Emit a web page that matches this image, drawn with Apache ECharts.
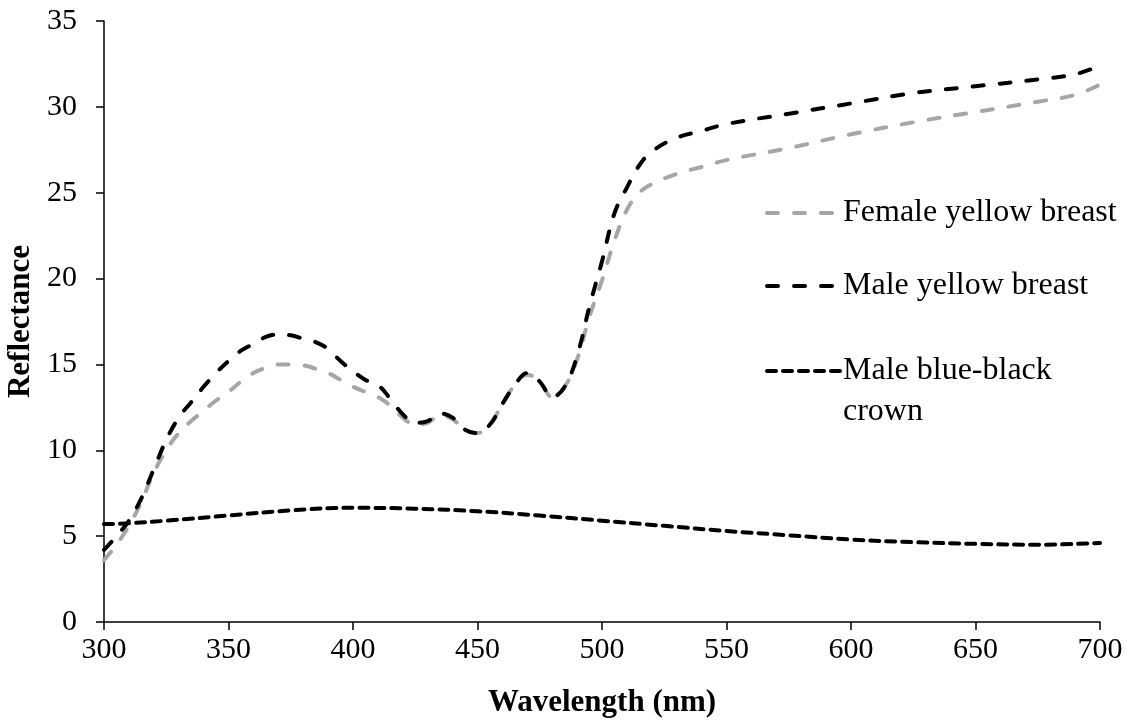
<!DOCTYPE html>
<html>
<head>
<meta charset="utf-8">
<script src="https://cdn.jsdelivr.net/npm/echarts@6/dist/echarts.min.js"></script>
<style>
  html, body { margin: 0; padding: 0; background: #fff; }
  #chart { width: 1132px; height: 725px; }
</style>
</head>
<body>
<div id="chart"></div>
<script>
// wavelengths (nm) for the two yellow breast spectra
const yellowWl = [300, 305, 310, 315, 320, 325, 330, 335, 340, 345, 350, 355, 360, 365, 370, 375, 380, 385, 390, 395,
    400, 405, 410, 415, 420, 425, 430, 435, 440, 445, 450, 455, 460, 465, 470, 475, 480, 485, 490, 495,
    500, 505, 510, 515, 520, 530, 540, 550, 575, 600, 625, 650, 675, 690, 700];
const femaleYellow = [3.6, 4.5, 5.6, 7.0, 8.7, 10.0, 11.0, 11.7, 12.3, 12.9, 13.4, 14.0, 14.5, 14.8, 15.0, 15.0, 14.95, 14.75, 14.5, 14.1,
    13.7, 13.4, 13.1, 12.6, 11.9, 11.5, 11.6, 12.05, 11.8, 11.2, 11.0, 11.5, 12.7, 13.8, 14.4, 14.0, 13.1, 13.7, 15.3, 17.8,
    19.9, 22.2, 24.0, 25.0, 25.5, 26.1, 26.5, 26.9, 27.6, 28.4, 29.1, 29.7, 30.3, 30.7, 31.3];
const maleYellow = [4.2, 5.0, 5.9, 7.2, 8.9, 10.6, 11.9, 12.8, 13.7, 14.5, 15.2, 15.8, 16.2, 16.6, 16.75, 16.7, 16.5, 16.3, 15.9, 15.2,
    14.6, 14.1, 13.8, 13.0, 12.1, 11.6, 11.7, 12.15, 11.9, 11.2, 11.0, 11.5, 12.7, 13.8, 14.5, 14.0, 13.1, 13.7, 15.5, 18.4,
    21.0, 23.8, 25.3, 26.6, 27.4, 28.2, 28.6, 29.0, 29.6, 30.2, 30.8, 31.2, 31.6, 31.9, 32.4];

// blue-black crown spectrum
const crownWl = [300, 310, 325, 350, 375, 400, 425, 450, 475, 500, 525, 550, 575, 600, 625, 650, 675, 700];
const maleCrown = [5.7, 5.75, 5.9, 6.2, 6.5, 6.65, 6.6, 6.45, 6.2, 5.9, 5.6, 5.3, 5.05, 4.8, 4.65, 4.55, 4.5, 4.6];

const seriesNames = ['Female yellow breast', 'Male yellow breast', 'Male blue-black crown'];

const pairs = (xs, ys) => xs.map((x, i) => [x, ys[i]]);

const font = '"Liberation Serif", "Times New Roman", serif';

const chart = echarts.init(document.getElementById('chart'));

const legendBase = {
    orient: 'vertical',
    left: 765,
    padding: 0,
    itemWidth: 73,
    itemHeight: 14,
    itemGap: 0,
    selectedMode: false,
    itemStyle: { opacity: 0 },
    lineStyle: { width: 4 },
    textStyle: { fontFamily: font, fontSize: 32, color: '#000', lineHeight: 14, padding: [0, 0, 0, -2] }
};

chart.setOption({
    animation: false,
    grid: { left: 104, right: 32, top: 21, bottom: 103, outerBoundsMode: 'none' },
    legend: [
        { ...legendBase, top: 197, data: [seriesNames[0]] },
        { ...legendBase, top: 270, data: [seriesNames[1]] },
        { ...legendBase, top: 355, data: [seriesNames[2]], formatter: () => 'Male blue-black' }
    ],
    graphic: [{
        type: 'text',
        left: 843,
        top: 396,
        style: { text: 'crown', fontFamily: font, fontSize: 32, fill: '#000' }
    }],
    xAxis: {
        type: 'value',
        min: 300,
        max: 700,
        interval: 50,
        name: 'Wavelength (nm)',
        nameLocation: 'middle',
        nameGap: 65,
        nameTextStyle: { fontFamily: font, fontSize: 31, fontWeight: 'bold', color: '#000' },
        axisLine: { show: true, lineStyle: { color: '#000', width: 1.5 } },
        axisTick: { show: true, length: 8, lineStyle: { color: '#000', width: 1.5 } },
        axisLabel: { fontFamily: font, fontSize: 30, color: '#000', margin: 13 },
        splitLine: { show: false }
    },
    yAxis: {
        type: 'value',
        min: 0,
        max: 35,
        interval: 5,
        name: 'Reflectance',
        nameLocation: 'middle',
        nameGap: 60,
        nameTextStyle: { fontFamily: font, fontSize: 31, fontWeight: 'bold', color: '#000' },
        axisLine: { show: true, lineStyle: { color: '#000', width: 1.5 } },
        axisTick: { show: true, length: 8, lineStyle: { color: '#000', width: 1.5 } },
        axisLabel: { fontFamily: font, fontSize: 30, color: '#000', margin: 27 },
        splitLine: { show: false }
    },
    series: [
        {
            name: seriesNames[0],
            type: 'line',
            data: pairs(yellowWl, femaleYellow),
            smooth: 0.4,
            symbol: 'none',
            color: '#a6a6a6',
            lineStyle: { color: '#a6a6a6', width: 4, type: [11, 16], cap: 'round' }
        },
        {
            name: seriesNames[1],
            type: 'line',
            data: pairs(yellowWl, maleYellow),
            smooth: 0.4,
            symbol: 'none',
            color: '#000',
            lineStyle: { color: '#000', width: 4, type: [11, 16], cap: 'round' }
        },
        {
            name: seriesNames[2],
            type: 'line',
            data: pairs(crownWl, maleCrown),
            smooth: 0.4,
            symbol: 'none',
            color: '#000',
            lineStyle: { color: '#000', width: 4, type: [9, 7], cap: 'round' }
        }
    ]
});
</script>
</body>
</html>
